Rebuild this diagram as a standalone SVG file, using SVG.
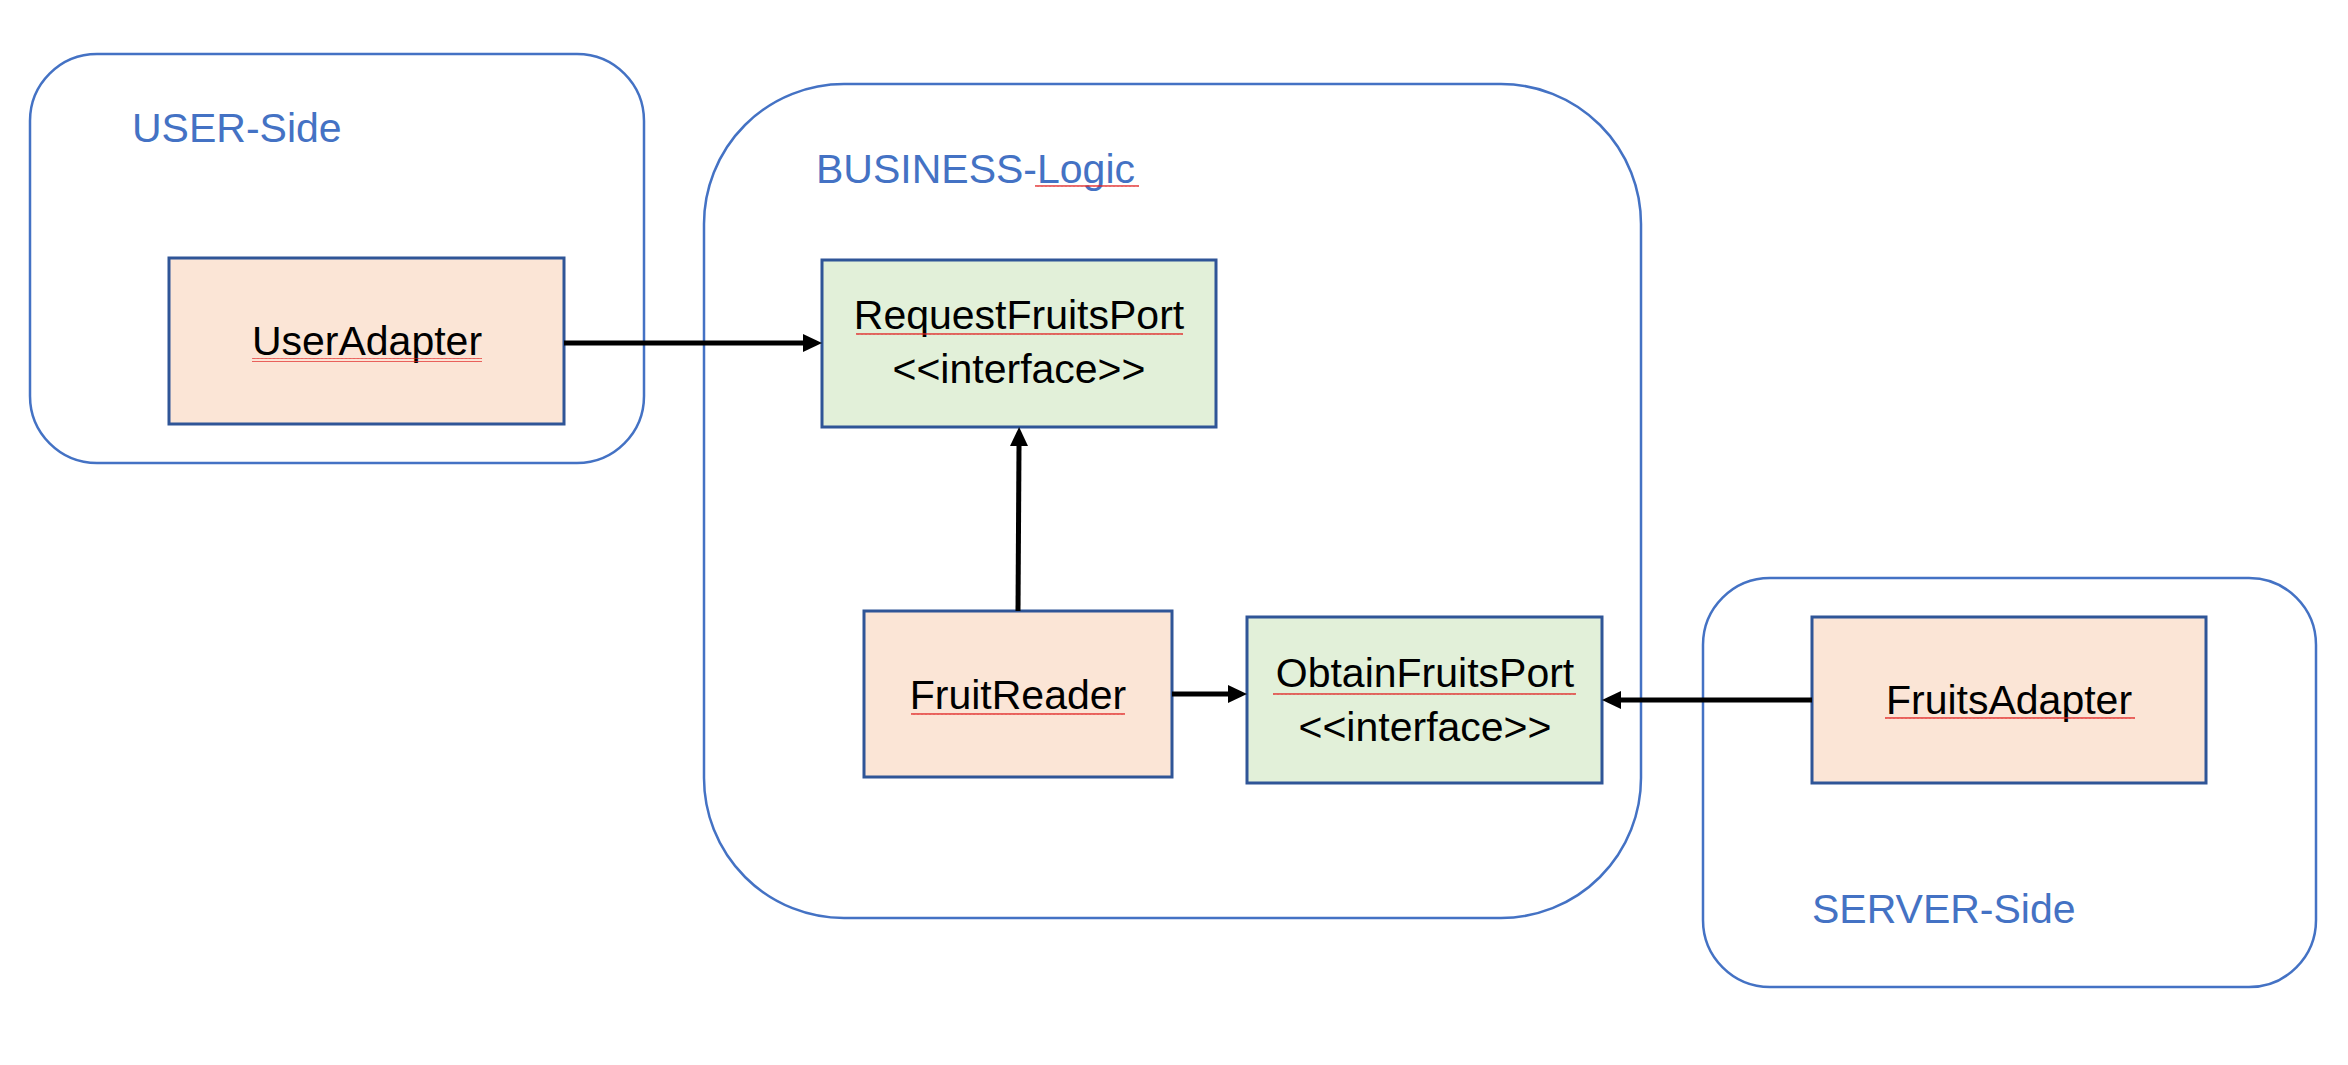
<svg xmlns="http://www.w3.org/2000/svg" width="2348" height="1065" viewBox="0 0 2348 1065">
<style>
.container{fill:none;stroke:#4472C4;stroke-width:2.5}
.clabel{font-family:"Liberation Sans",Arial,sans-serif;font-size:41px;fill:#4472C4}
.adapter{fill:#FBE5D6;stroke:#2F5597;stroke-width:3}
.port{fill:#E2F0D9;stroke:#2F5597;stroke-width:3}
.ntext{font-family:"Liberation Sans",Arial,sans-serif;font-size:41px;fill:#000;text-anchor:middle}
.conn{stroke:#000;stroke-width:5;fill:none;marker-end:url(#arrow)}
.squig{fill:url(#wave)}
</style>
<defs>
<marker id="arrow" markerUnits="userSpaceOnUse" markerWidth="19" markerHeight="18" refX="0" refY="9" orient="auto">
<path d="M0,0 L19,9 L0,18 z" fill="#000"/>
</marker>
<pattern id="wave" patternUnits="userSpaceOnUse" width="4" height="4">
<path d="M0,3 L1,1 L2,3 L3,1 L4,3" fill="none" stroke="#E02020" stroke-width="0.8"/>
</pattern>
</defs>
<rect width="2348" height="1065" fill="#FFFFFF"/>

<g id="user-side">
<rect class="container" x="30" y="54" width="614" height="409" rx="67" ry="67"/>
<text class="clabel" x="132" y="142">USER-Side</text>
</g>

<g id="business-logic">
<rect class="container" x="704" y="84" width="937" height="834" rx="140" ry="140"/>
<text class="clabel" x="816" y="183">BUSINESS-Logic</text>
<rect class="squig" x="1035" y="185" width="104" height="4"/>
</g>

<g id="server-side">
<rect class="container" x="1703" y="578" width="613" height="409" rx="67" ry="67"/>
<text class="clabel" x="1812" y="923">SERVER-Side</text>
</g>

<g id="user-adapter">
<rect class="adapter" x="169" y="258" width="395" height="166"/>
<text class="ntext" x="367" y="355">UserAdapter</text>
<rect class="squig" x="252" y="358" width="230" height="4"/>
</g>

<g id="request-fruits-port">
<rect class="port" x="822" y="260" width="394" height="167"/>
<text class="ntext" x="1019" y="329">RequestFruitsPort</text>
<rect class="squig" x="856" y="333" width="327" height="4"/>
<text class="ntext" x="1019" y="383">&lt;&lt;interface&gt;&gt;</text>
</g>

<g id="fruit-reader">
<rect class="adapter" x="864" y="611" width="308" height="166"/>
<text class="ntext" x="1018" y="709">FruitReader</text>
<rect class="squig" x="911" y="712" width="214" height="4"/>
</g>

<g id="obtain-fruits-port">
<rect class="port" x="1247" y="617" width="355" height="166"/>
<text class="ntext" x="1425" y="687">ObtainFruitsPort</text>
<rect class="squig" x="1273" y="691" width="303" height="4"/>
<text class="ntext" x="1425" y="741">&lt;&lt;interface&gt;&gt;</text>
</g>

<g id="fruits-adapter">
<rect class="adapter" x="1812" y="617" width="394" height="166"/>
<text class="ntext" x="2009" y="714">FruitsAdapter</text>
<rect class="squig" x="1885" y="717" width="250" height="4"/>
</g>

<g id="connectors">
<line class="conn" x1="564" y1="343" x2="803" y2="343"/>
<line class="conn" x1="1018" y1="611" x2="1019" y2="446"/>
<line class="conn" x1="1172" y1="694" x2="1228" y2="694"/>
<line class="conn" x1="1812" y1="700" x2="1621" y2="700"/>
</g>
</svg>
